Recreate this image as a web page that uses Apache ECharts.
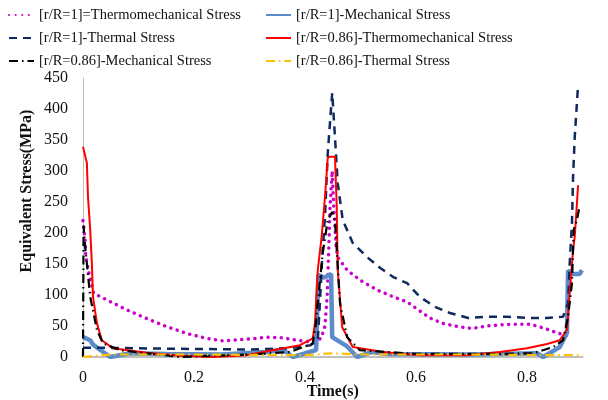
<!DOCTYPE html>
<html>
<head>
<meta charset="utf-8">
<script src="https://cdn.jsdelivr.net/npm/echarts@6/dist/echarts.min.js"></script>
<style>html,body{margin:0;padding:0;background:#fff}#c{width:608px;height:400px}</style>
</head>
<body>
<div id="c"></div>
<script>
// Series names
const names = [
  '[r/R=1]=Thermomechanical Stress',
  '[r/R=1]-Mechanical Stress',
  '[r/R=1]-Thermal Stress',
  '[r/R=0.86]-Thermomechanical Stress',
  '[r/R=0.86]-Mechanical Stress',
  '[r/R=0.86]-Thermal Stress'
];
// X tick labels: 0, 0.2, 0.4, 0.6, 0.8 ; Y: 0..450 step 50
const xTicks = [0, 0.2, 0.4, 0.6, 0.8];
const yTicks = [0, 50, 100, 150, 200, 250, 300, 350, 400, 450];

// [r/R=1] Thermomechanical
const t1 = [0,0.004,0.005,0.01,0.019,0.043,0.079,0.115,0.151,0.187,0.223,0.253,0.283,0.313,0.331,0.36,0.385,0.414,0.429,0.436,0.44,0.443,0.445,0.449,0.452,0.456,0.459,0.476,0.499,0.53,0.559,0.584,0.604,0.625,0.649,0.676,0.701,0.728,0.755,0.778,0.805,0.829,0.854,0.875];
const v1 = [220,189,162,138,103,92,76,62,49,38,30,26,28,30,32,31,27,24,30,50,100,180,240,300,240,180,161,140,124,108,97,89,76,63,54,49,46,50,52,53,53,47,39,34];
// [r/R=1] Mechanical
const t2 = [0,0.013,0.018,0.049,0.085,0.15,0.25,0.33,0.36,0.378,0.4,0.42,0.422,0.424,0.435,0.447,0.449,0.476,0.494,0.52,0.55,0.7,0.818,0.829,0.859,0.872,0.874,0.88,0.895,0.899];
const v2 = [32,27,20,0,6,5,4,8,12,0,6,11,12,132,128,134,32,17,0,8,5,4,6,0,16,39,140,134,134,140];
// [r/R=1] Thermal
const t3 = [0,0.03,0.1,0.2,0.3,0.37,0.41,0.423,0.427,0.431,0.436,0.441,0.449,0.454,0.459,0.468,0.486,0.512,0.535,0.559,0.584,0.607,0.634,0.661,0.694,0.728,0.764,0.8,0.836,0.865,0.874,0.877,0.881,0.883,0.886,0.89,0.892];
const v3 = [15,15,14,13,12,14,19,27,90,161,226,329,426,355,280,221,184,161,144,129,119,97,81,71,63,65,65,63,63,65,87,152,216,290,355,410,439];
// [r/R=0.86] Thermomechanical
const t4 = [0,0.007,0.009,0.013,0.016,0.018,0.025,0.034,0.054,0.115,0.175,0.234,0.294,0.342,0.391,0.414,0.418,0.423,0.43,0.436,0.441,0.445,0.454,0.457,0.459,0.467,0.486,0.54,0.607,0.692,0.751,0.8,0.836,0.859,0.872,0.877,0.883,0.886,0.89,0.892];
const v4 = [339,313,258,205,151,97,55,27,14,7,2,0,3,11,19,30,55,140,194,258,321,323,323,248,140,48,16,8,3,3,8,14,21,27,44,103,173,194,248,277];
// [r/R=0.86] Mechanical
const t5 = [0,0.001,0.004,0.013,0.025,0.036,0.067,0.175,0.3,0.373,0.414,0.419,0.423,0.432,0.441,0.449,0.454,0.458,0.463,0.476,0.499,0.6,0.75,0.811,0.847,0.865,0.874,0.881,0.883,0.884,0.89,0.894];
const v5 = [0,212,177,97,44,22,11,0,4,8,22,50,87,168,221,234,221,161,87,32,11,5,5,6,16,27,65,119,173,205,221,240];
// [r/R=0.86] Thermal
const t6 = [0,0.05,0.2,0.4,0.45,0.5,0.7,0.85,0.9];
const v6 = [0,4,4,3,6,4,4,3,3];

const zip = (t, v) => t.map((x, i) => [x, v[i]]);
const ts = [t1, t2, t3, t4, t5, t6];
const vs = [v1, v2, v3, v4, v5, v6];
const styles = [
  {color:'#CC00CC', width:3.5, type:[0.1,6.5], cap:'round'},
  {color:'#5B8BC8', width:4.5, type:'solid', cap:'butt'},
  {color:'#0F2A5F', width:2.5, type:[8,6], cap:'butt'},
  {color:'#FF0000', width:2, type:'solid', cap:'butt'},
  {color:'#000000', width:2.2, type:[9,4,1.5,4], cap:'butt'},
  {color:'#FFC000', width:2.2, type:[9,4,1.5,4], cap:'butt'}
];
const series = names.map((n, i) => ({
  name: n, type: 'line', symbol: 'none', smooth: false,
  data: zip(ts[i], vs[i]),
  lineStyle: {color: styles[i].color, width: styles[i].width, type: styles[i].type, cap: styles[i].cap},
  itemStyle: {color: styles[i].color},
  z: 2 + i
}));

const font = 'Liberation Serif';
const legendCommon = {
  orient: 'vertical', itemWidth: 25, itemHeight: 14, itemGap: 7, padding: 0,
  itemStyle: {opacity: 0, borderWidth: 0},
  textStyle: {fontFamily: font, fontSize: 14.5, color: '#111', lineHeight: 16},
  selectedMode: false
};
const chart = echarts.init(document.getElementById('c'), null, {renderer: 'canvas'});
chart.setOption({
  animation: false,
  backgroundColor: '#fff',
  grid: {left: 83, right: 25.5, top: 78, bottom: 43, containLabel: false, outerBoundsMode: 'none'},
  legend: [
    Object.assign({}, legendCommon, {left: 8, top: 7, data: [names[0], names[2], names[4]]}),
    Object.assign({}, legendCommon, {left: 265, top: 7, data: [names[1], names[3], names[5]]})
  ],
  xAxis: {
    type: 'value', min: 0, max: 0.9, interval: 0.2,
    name: 'Time(s)', nameLocation: 'middle', nameGap: 27, nameMoveOverlap: false,
    nameTextStyle: {fontFamily: font, fontSize: 16, fontWeight: 'bold', color: '#111'},
    axisLine: {show: true, lineStyle: {color: '#BFBFBF', width: 2}},
    axisTick: {show: false}, splitLine: {show: false},
    axisLabel: {fontFamily: font, fontSize: 16, color: '#111', margin: 13, showMaxLabel: false,
      formatter: v => (xTicks.some(t => Math.abs(t - v) < 1e-9) ? String(Math.round(v * 10) / 10) : '')}
  },
  yAxis: {
    type: 'value', min: 0, max: 450, interval: 50,
    axisLine: {show: true, lineStyle: {color: '#BFBFBF', width: 1}},
    axisTick: {show: false}, splitLine: {show: false},
    axisLabel: {fontFamily: font, fontSize: 16, color: '#111', margin: 15,
      formatter: v => (yTicks.indexOf(v) >= 0 ? String(v) : '')}
  },
  graphic: [{
    type: 'text', x: 27, y: 191, rotation: Math.PI / 2,
    style: {text: 'Equivalent Stress(MPa)', fontFamily: font, fontSize: 16, fontWeight: 'bold', fill: '#111', align: 'center', verticalAlign: 'middle'}
  }],
  series: series
});
</script>
</body>
</html>
